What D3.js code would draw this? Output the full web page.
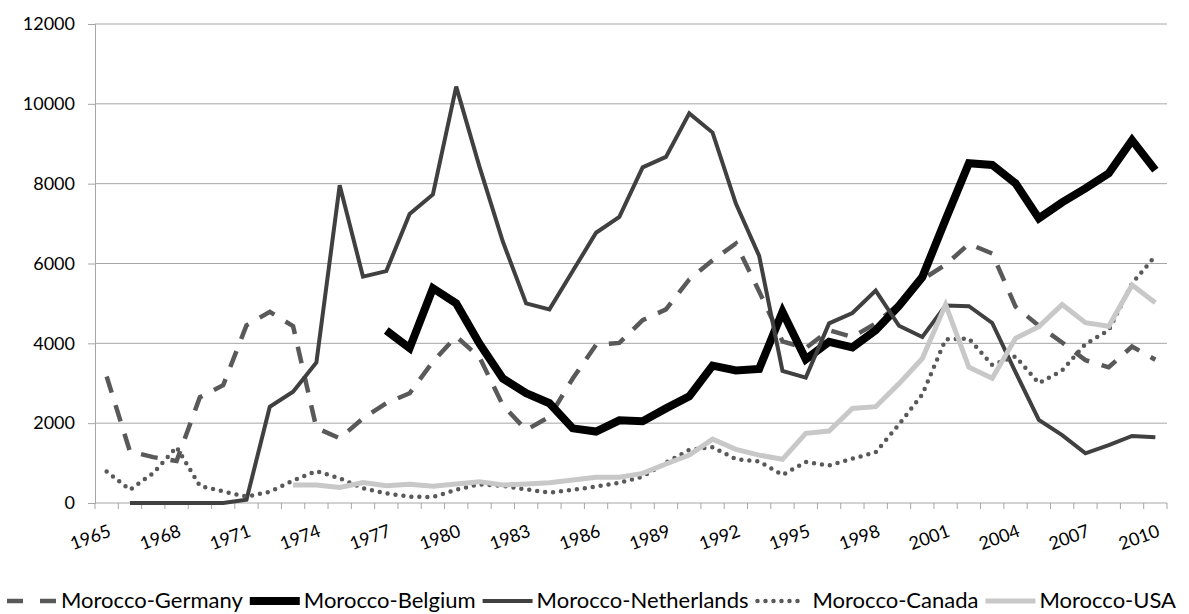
<!DOCTYPE html>
<html>
<head>
<meta charset="utf-8">
<script src="https://cdnjs.cloudflare.com/ajax/libs/d3/7.8.5/d3.min.js"></script>
<style>
  body { margin: 0; background: #fff; }
  text { font-family: Lato, "Noto Sans", sans-serif; fill: #000; }
</style>
</head>
<body>
<div id="chart"></div>
<script>
// categories
const years = [1965, 1966, 1967, 1968, 1969, 1970, 1971, 1972, 1973, 1974,
    1975, 1976, 1977, 1978, 1979, 1980, 1981, 1982, 1983, 1984,
    1985, 1986, 1987, 1988, 1989, 1990, 1991, 1992, 1993, 1994,
    1995, 1996, 1997, 1998, 1999, 2000, 2001, 2002, 2003, 2004,
    2005, 2006, 2007, 2008, 2009, 2010];
const tickYears = [1965, 1968, 1971, 1974, 1977, 1980, 1983, 1986, 1989, 1992,
    1995, 1998, 2001, 2004, 2007, 2010];
const yTicks = [0, 2000, 4000, 6000, 8000, 10000, 12000];

// series values, null = no data
const germany = [3170, 1290, 1150, 1050, 2650, 2950, 4450, 4790, 4430, 1880,
    1620, 2120, 2500, 2750, 3540, 4170, 3650, 2450, 1830, 2160,
    3120, 3960, 4010, 4580, 4850, 5600, 6080, 6500, 5300, 4050,
    3880, 4330, 4160, 4500, 4980, 5600, 5970, 6490, 6250, 4920,
    4440, 4020, 3580, 3400, 3920, 3590];
const belgium = [null, null, null, null, null, null, null, null, null, null,
    null, null, 4320, 3880, 5380, 5000, 3990, 3120, 2750, 2500,
    1870, 1790, 2070, 2050, 2370, 2670, 3440, 3320, 3360, 4790,
    3600, 4040, 3900, 4330, 4940, 5660, 7100, 8510, 8470, 8010,
    7130, 7530, 7880, 8260, 9090, 8340];
const netherlands = [null, 0, 0, 0, 0, 0, 80, 2410, 2790, 3520,
    7960, 5670, 5810, 7240, 7730, 10430, 8420, 6550, 5000, 4850,
    5810, 6770, 7170, 8410, 8670, 9760, 9280, 7500, 6190, 3310,
    3140, 4500, 4760, 5320, 4440, 4160, 4950, 4930, 4510, 3280,
    2080, 1700, 1245, 1450, 1680, 1645];
const canada = [790, 330, 750, 1400, 430, 290, 160, 280, 560, 800,
    620, 370, 240, 160, 150, 330, 470, 430, 340, 260,
    330, 410, 510, 660, 1010, 1330, 1400, 1100, 1040, 700,
    1030, 940, 1110, 1270, 1970, 2720, 4100, 4120, 3460, 3670,
    3000, 3320, 3980, 4330, 5500, 6190];
const usa = [null, null, null, null, null, null, null, null, 450, 450,
    390, 510, 430, 470, 420, 476, 535, 450, 476, 509,
    576, 643, 643, 743, 977, 1200, 1600, 1345, 1200, 1094,
    1745, 1804, 2370, 2413, 2990, 3620, 4970, 3400, 3123, 4125,
    4417, 4970, 4517, 4430, 5461, 5018];

const seriesNames = ["Morocco-Germany", "Morocco-Belgium", "Morocco-Netherlands", "Morocco-Canada", "Morocco-USA"];
const seriesValues = [germany, belgium, netherlands, canada, usa];

const width = 1189, height = 614;
const styles = [
    { color: "#595959", w: 4.5, dash: "17,13", cap: "butt", legendDash: "16,17", dotted: false },
    { color: "#000000", w: 8, dash: null, cap: "butt", legendDash: null, dotted: false },
    { color: "#404040", w: 4, dash: null, cap: "butt", legendDash: null, dotted: false },
    { color: "#595959", w: 4.5, dash: "0,8", cap: "round", legendDash: "0,8", dotted: true },
    { color: "#c8c8c8", w: 5, dash: null, cap: "butt", legendDash: null, dotted: false }
];

let svg = d3.select("#chart")
    .append("svg")
    .attr("width", width)
    .attr("height", height);

let x = d3.scaleBand()
    .domain(years)
    .range([95, 1167])
    .padding(0);

let y = d3.scaleLinear()
    .domain([0, 12000])
    .range([503, 24]);

// gridlines
svg.append("g")
    .selectAll("line")
    .data(yTicks.filter(d => d > 0))
    .join("line")
    .attr("x1", 95)
    .attr("x2", 1167)
    .attr("y1", d => y(d))
    .attr("y2", d => y(d))
    .attr("stroke", "#a6a6a6")
    .attr("stroke-width", 1);

// y axis
let yAxis = svg.append("g")
    .attr("transform", "translate(95,0)")
    .call(d3.axisLeft(y).tickValues(yTicks).tickSize(7).tickPadding(13).tickFormat(d3.format("d")));
yAxis.select(".domain").attr("stroke", "#a6a6a6");
yAxis.selectAll(".tick line").attr("stroke", "#a6a6a6");
yAxis.selectAll("text")
    .style("font-size", "18px")
    .style("font-family", "Lato, sans-serif")
    .attr("fill", "#000");

// x axis: ticks on category boundaries
let xAxisG = svg.append("g");
xAxisG.append("line")
    .attr("x1", 95)
    .attr("x2", 1167)
    .attr("y1", y(0))
    .attr("y2", y(0))
    .attr("stroke", "#a6a6a6");
xAxisG.selectAll(".xtick")
    .data(years.concat(["end"]))
    .join("line")
    .attr("class", "xtick")
    .attr("x1", d => d === "end" ? x.range()[1] : x(d))
    .attr("x2", d => d === "end" ? x.range()[1] : x(d))
    .attr("y1", y(0))
    .attr("y2", y(0) + 6)
    .attr("stroke", "#a6a6a6");
xAxisG.selectAll(".xlabel")
    .data(tickYears)
    .join("text")
    .attr("class", "xlabel")
    .attr("text-anchor", "end")
    .attr("transform", d => `translate(${x(d) + x.bandwidth() / 2 + 5.5}, 536) rotate(-20)`)
    .style("font-size", "18px")
    .text(d => d);

// lines
let line = d3.line()
    .defined(d => d !== null)
    .x((d, i) => x(years[i]) + x.bandwidth() / 2)
    .y(d => y(d));

svg.append("g")
    .selectAll("path")
    .data(seriesValues)
    .join("path")
    .attr("d", d => line(d))
    .attr("fill", "none")
    .attr("stroke", (d, i) => styles[i].color)
    .attr("stroke-width", (d, i) => styles[i].w)
    .attr("stroke-dasharray", (d, i) => styles[i].dash)
    .attr("stroke-linecap", (d, i) => styles[i].cap)
    .attr("stroke-linejoin", "miter");

// legend
let legend = svg.append("g");
let lx = 7;
seriesNames.forEach(function (name, i) {
    let s = styles[i];
    let len = s.dotted ? 43 : 50;
    let item = legend.append("g");
    item.append("line")
        .attr("x1", lx + (s.dotted ? 2 : 0))
        .attr("x2", lx + len)
        .attr("y1", 601)
        .attr("y2", 601)
        .attr("stroke", s.color)
        .attr("stroke-width", s.w)
        .attr("stroke-dasharray", s.legendDash)
        .attr("stroke-linecap", s.cap);
    let tx = lx + (s.dotted ? 57 : 54);
    let t = item.append("text")
        .attr("x", tx)
        .attr("y", 608)
        .style("font-size", "22px")
        .text(name);
    lx = tx + t.node().getComputedTextLength() + 7;
});
</script>
</body>
</html>
